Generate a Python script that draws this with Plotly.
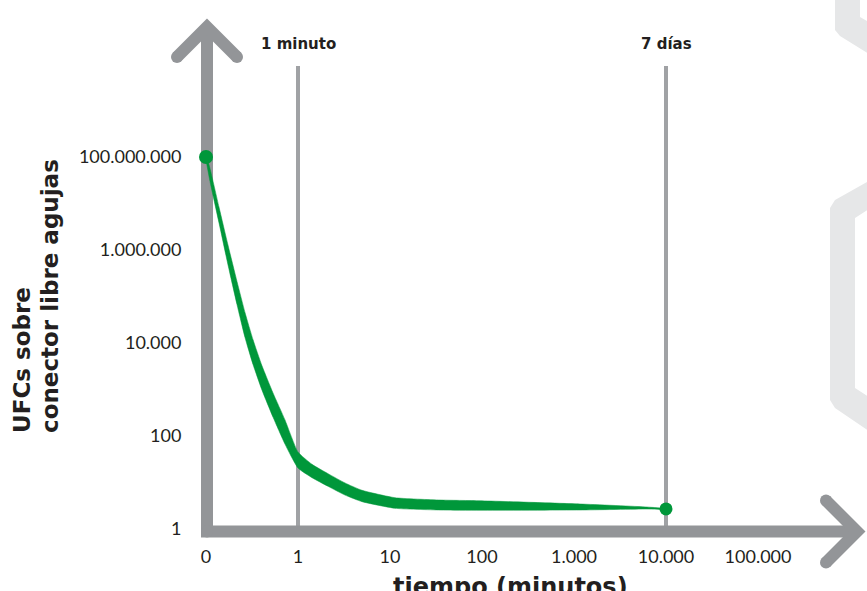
import plotly.graph_objects as go

# ---------------- data ----------------
# x axis: ordinal log-time positions, one per tick label
x_tick_labels = ["0", "1", "10", "100", "1.000", "10.000", "100.000"]
x_tick_pos = [0, 1, 2, 3, 4, 5, 6]

y_tick_vals = [1, 100, 10000, 1000000, 100000000]
y_tick_labels = ["1", "100", "10.000", "1.000.000", "100.000.000"]

# green band (CFU on needle-free connector): position on the time axis, upper and lower edges
curve_pos = [0.0, 0.0435, 0.1413, 0.2391, 0.337, 0.4239, 0.5109, 0.6087, 0.7283, 0.8587, 1.0,
             1.1522, 1.3261, 1.5109, 1.6957, 2.0543, 2.5435, 2.9783, 4.0652, 4.7935, 5.0]
curve_upper = [1.16e8, 5.69e7, 8.37e6, 1.275e6, 2.11e5, 4.53e4, 1.183e4, 3233, 845, 222, 45.3,
               24.6, 15.5, 9.78, 6.80, 4.71, 4.20, 4.05, 3.45, 2.97, 2.73]
curve_lower = [8.62e7, 2.96e7, 3.83e6, 4.78e5, 6.70e4, 1.313e4, 3466, 966, 255, 66.9, 20.5,
               12.7, 8.29, 5.37, 3.87, 2.79, 2.56, 2.53, 2.56, 2.69, 2.65]

# end points
point_pos = [0, 5]
point_cfu = [1e8, 2.7]

# reference lines
ref_line_pos = [1, 5]
ref_line_labels = ["1 minuto", "7 días"]

x_title = "tiempo (minutos)"
y_title_lines = ["UFCs sobre", "conector libre agujas"]

# ---------------- styling ----------------
W, H = 867, 591
# plot area in screen pixels
SL, SR, ST, SB = 196, 867, 0, 537
ML, MR, MT, MB = SL, W - SR, ST, H - SB
GREEN = "#00973a"
AXIS_GRAY = "#939598"
LINE_GRAY = "#a0a2a5"
HEX_GRAY = "#e6e7e8"
TXT = "#231f20"
FONT = "Lato"
BOLD = "DejaVu Sans"


def PX(sx):
    return (sx - SL) / (SR - SL)


def PY(sy):
    return (SB - sy) / (SB - ST)


fig = go.Figure()

fig.add_trace(go.Scatter(
    x=curve_pos + curve_pos[::-1],
    y=curve_upper + curve_lower[::-1],
    fill="toself", fillcolor=GREEN, mode="lines",
    line=dict(color=GREEN, width=0.5, shape="spline", smoothing=0.5),
    hoverinfo="skip", showlegend=False,
))

fig.add_trace(go.Scatter(
    x=point_pos, y=point_cfu, mode="markers",
    marker=dict(color=GREEN, size=[14, 13], opacity=1, line=dict(width=0)),
    cliponaxis=False, showlegend=False, hoverinfo="skip",
))

shapes = []


def poly(pts, close=True):
    s = "M " + " L ".join(f"{PX(a):.5f},{PY(b):.5f}" for a, b in pts)
    return s + (" Z" if close else "")


# background hexagon fragments
shapes.append(dict(type="path", xref="paper", yref="paper", layer="below",
                   path=poly([(835, -2), (835, 30), (840, 36), (869, 54), (869, 22), (860, 17), (860, -2)]),
                   fillcolor=HEX_GRAY, line=dict(width=0)))
shapes.append(dict(type="path", xref="paper", yref="paper", layer="below",
                   path=poly([(869, 181), (835, 200), (830, 208), (830, 400), (835, 408), (869, 431),
                              (869, 397), (855, 388), (855, 218), (869, 209)]),
                   fillcolor=HEX_GRAY, line=dict(width=0)))

# reference vertical lines
for p in ref_line_pos:
    shapes.append(dict(type="line", xref="x", yref="paper", x0=p, x1=p,
                       y0=PY(531), y1=PY(66), layer="below",
                       line=dict(color=LINE_GRAY, width=4)))

# main axes with arrows
shapes.append(dict(type="path", xref="paper", yref="paper", layer="below",
                   path=poly([(207, 27), (207, 531.5), (857, 531.5)], close=False),
                   line=dict(color=AXIS_GRAY, width=12)))
shapes.append(dict(type="path", xref="paper", yref="paper", layer="below",
                   path=poly([(177, 57), (207, 27), (237, 57)], close=False),
                   line=dict(color=AXIS_GRAY, width=12)))
shapes.append(dict(type="path", xref="paper", yref="paper", layer="below",
                   path=poly([(826, 500.5), (857, 531.5), (826, 562.5)], close=False),
                   line=dict(color=AXIS_GRAY, width=12)))
# round caps
for cx, cy in [(177, 57), (237, 57), (826, 500.5), (826, 562.5), (207, 531.5)]:
    shapes.append(dict(type="circle", xref="paper", yref="paper", layer="below",
                       x0=PX(cx - 6), x1=PX(cx + 6), y0=PY(cy + 6), y1=PY(cy - 6),
                       fillcolor=AXIS_GRAY, line=dict(width=0)))

annotations = []
for p, t in zip(ref_line_pos, ref_line_labels):
    annotations.append(dict(x=p, xref="x", y=PY(44), yref="paper", text=t,
                            showarrow=False, xanchor="center", yanchor="middle",
                            font=dict(family=BOLD, size=15, color=TXT, weight="bold")))
annotations.append(dict(x=PX(510), xref="paper", y=PY(587), yref="paper", text=x_title,
                        showarrow=False, xanchor="center", yanchor="middle",
                        font=dict(family=BOLD, size=24, color=TXT, weight="bold")))
for cx, line in zip([22, 50], y_title_lines):
    annotations.append(dict(x=PX(cx), xref="paper", y=PY(435), yref="paper", text=line,
                            showarrow=False, xanchor="center", yanchor="bottom",
                            textangle=-90,
                            font=dict(family=BOLD, size=23, color=TXT, weight="bold")))

fig.update_layout(
    width=W, height=H,
    margin=dict(l=ML, r=MR, t=MT, b=MB, pad=0),
    paper_bgcolor="white", plot_bgcolor="white",
    showlegend=False, hovermode=False,
    shapes=shapes, annotations=annotations,
    xaxis=dict(range=[(SL - 206) / 92, (SR - 206) / 92],
               tickvals=x_tick_pos, ticktext=x_tick_labels,
               showgrid=False, zeroline=False, showline=False,
               ticks="outside", ticklen=3, tickcolor="rgba(0,0,0,0)",
               tickfont=dict(family=FONT, size=18, color=TXT),
               automargin=False, fixedrange=True),
    yaxis=dict(type="log", range=[(529 - SB) / 46.5, (529 - ST) / 46.5],
               tickvals=y_tick_vals, ticktext=y_tick_labels,
               showgrid=False, zeroline=False, showline=False,
               ticks="outside", ticklen=10, tickcolor="rgba(0,0,0,0)",
               tickfont=dict(family=FONT, size=18, color=TXT),
               automargin=False, fixedrange=True),
)

fig.write_html(
    "out.html",
    config={"displayModeBar": False},
    post_script="document.body.style.margin='0px';document.body.style.overflow='hidden';",
)
